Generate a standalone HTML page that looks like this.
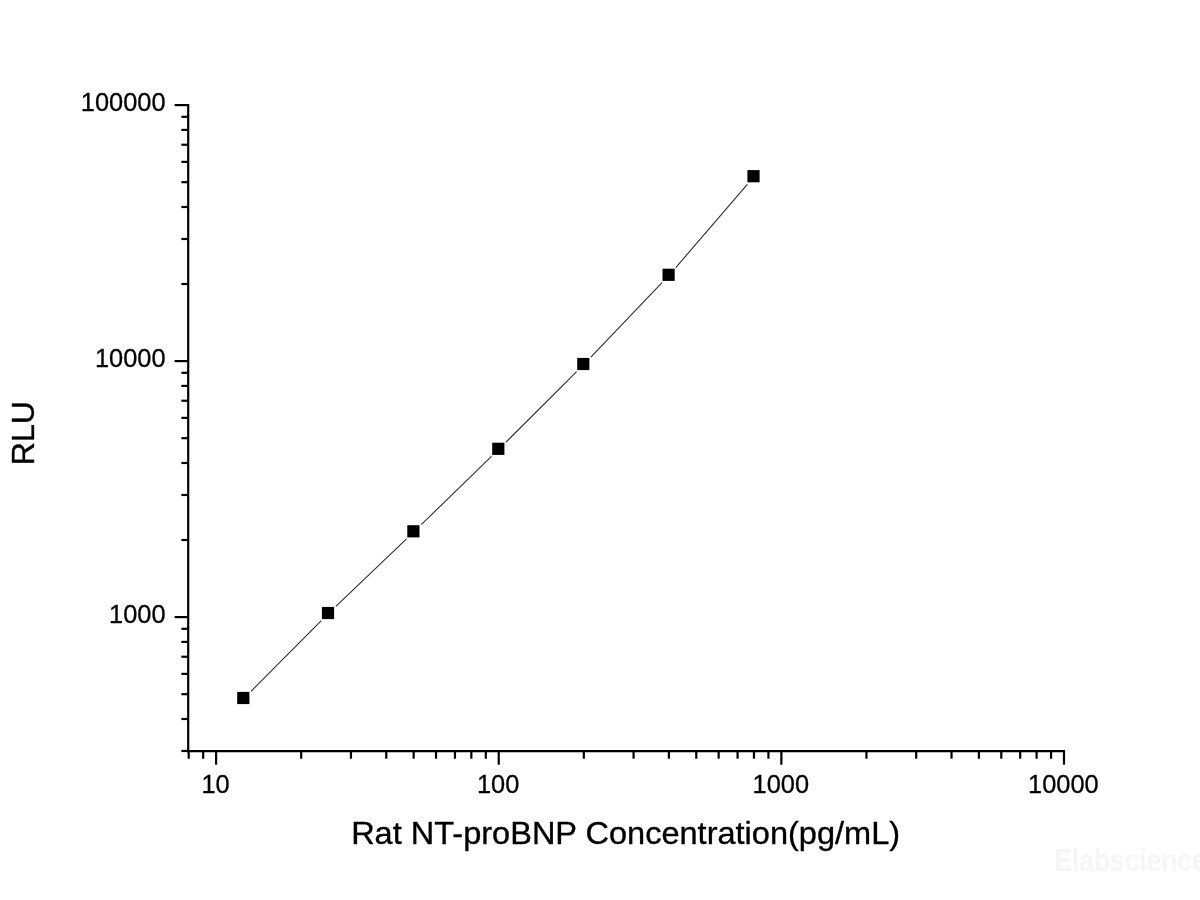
<!DOCTYPE html>
<html lang="en"><head><meta charset="utf-8"><title>Rat NT-proBNP Standard Curve</title>
<style>html,body{margin:0;padding:0;background:#fff;}body{width:1200px;height:900px;overflow:hidden;}svg{display:block;}text{font-family:"Liberation Sans",Arial,sans-serif;fill:#000;}</style></head><body>
<svg width="1200" height="900" viewBox="0 0 1200 900">
<rect x="0" y="0" width="1200" height="900" fill="#ffffff"/>
<g stroke="#000" stroke-width="2.2" fill="none" stroke-linecap="butt">
<line x1="188.2" y1="104.00" x2="188.2" y2="752.20"/>
<line x1="187.10" y1="751.1" x2="1065.09" y2="751.1"/>
<line x1="188.71" y1="751.1" x2="188.71" y2="758.70"/>
<line x1="203.17" y1="751.1" x2="203.17" y2="758.70"/>
<line x1="216.10" y1="751.1" x2="216.10" y2="764.70"/>
<line x1="301.18" y1="751.1" x2="301.18" y2="758.70"/>
<line x1="350.95" y1="751.1" x2="350.95" y2="758.70"/>
<line x1="386.26" y1="751.1" x2="386.26" y2="758.70"/>
<line x1="413.65" y1="751.1" x2="413.65" y2="758.70"/>
<line x1="436.03" y1="751.1" x2="436.03" y2="758.70"/>
<line x1="454.95" y1="751.1" x2="454.95" y2="758.70"/>
<line x1="471.34" y1="751.1" x2="471.34" y2="758.70"/>
<line x1="485.80" y1="751.1" x2="485.80" y2="758.70"/>
<line x1="498.73" y1="751.1" x2="498.73" y2="764.70"/>
<line x1="583.81" y1="751.1" x2="583.81" y2="758.70"/>
<line x1="633.58" y1="751.1" x2="633.58" y2="758.70"/>
<line x1="668.89" y1="751.1" x2="668.89" y2="758.70"/>
<line x1="696.28" y1="751.1" x2="696.28" y2="758.70"/>
<line x1="718.66" y1="751.1" x2="718.66" y2="758.70"/>
<line x1="737.58" y1="751.1" x2="737.58" y2="758.70"/>
<line x1="753.97" y1="751.1" x2="753.97" y2="758.70"/>
<line x1="768.43" y1="751.1" x2="768.43" y2="758.70"/>
<line x1="781.36" y1="751.1" x2="781.36" y2="764.70"/>
<line x1="866.44" y1="751.1" x2="866.44" y2="758.70"/>
<line x1="916.21" y1="751.1" x2="916.21" y2="758.70"/>
<line x1="951.52" y1="751.1" x2="951.52" y2="758.70"/>
<line x1="978.91" y1="751.1" x2="978.91" y2="758.70"/>
<line x1="1001.29" y1="751.1" x2="1001.29" y2="758.70"/>
<line x1="1020.21" y1="751.1" x2="1020.21" y2="758.70"/>
<line x1="1036.60" y1="751.1" x2="1036.60" y2="758.70"/>
<line x1="1051.06" y1="751.1" x2="1051.06" y2="758.70"/>
<line x1="1063.99" y1="751.1" x2="1063.99" y2="764.70"/>
<line x1="188.2" y1="750.96" x2="181.40" y2="750.96"/>
<line x1="188.2" y1="718.97" x2="181.40" y2="718.97"/>
<line x1="188.2" y1="694.16" x2="181.40" y2="694.16"/>
<line x1="188.2" y1="673.89" x2="181.40" y2="673.89"/>
<line x1="188.2" y1="656.75" x2="181.40" y2="656.75"/>
<line x1="188.2" y1="641.91" x2="181.40" y2="641.91"/>
<line x1="188.2" y1="628.81" x2="181.40" y2="628.81"/>
<line x1="188.2" y1="617.10" x2="174.60" y2="617.10"/>
<line x1="188.2" y1="540.04" x2="181.40" y2="540.04"/>
<line x1="188.2" y1="494.96" x2="181.40" y2="494.96"/>
<line x1="188.2" y1="462.97" x2="181.40" y2="462.97"/>
<line x1="188.2" y1="438.16" x2="181.40" y2="438.16"/>
<line x1="188.2" y1="417.89" x2="181.40" y2="417.89"/>
<line x1="188.2" y1="400.75" x2="181.40" y2="400.75"/>
<line x1="188.2" y1="385.91" x2="181.40" y2="385.91"/>
<line x1="188.2" y1="372.81" x2="181.40" y2="372.81"/>
<line x1="188.2" y1="361.10" x2="174.60" y2="361.10"/>
<line x1="188.2" y1="284.04" x2="181.40" y2="284.04"/>
<line x1="188.2" y1="238.96" x2="181.40" y2="238.96"/>
<line x1="188.2" y1="206.97" x2="181.40" y2="206.97"/>
<line x1="188.2" y1="182.16" x2="181.40" y2="182.16"/>
<line x1="188.2" y1="161.89" x2="181.40" y2="161.89"/>
<line x1="188.2" y1="144.75" x2="181.40" y2="144.75"/>
<line x1="188.2" y1="129.91" x2="181.40" y2="129.91"/>
<line x1="188.2" y1="116.81" x2="181.40" y2="116.81"/>
<line x1="188.2" y1="105.10" x2="174.60" y2="105.10"/>
</g>
<g font-size="25.4" stroke="#000" stroke-width="0.3">
<text x="215.50" y="793.4" text-anchor="middle">10</text>
<text x="498.13" y="793.4" text-anchor="middle">100</text>
<text x="780.76" y="793.4" text-anchor="middle">1000</text>
<text x="1063.39" y="793.4" text-anchor="middle">10000</text>
<text x="165.6" y="623.10" text-anchor="end">1000</text>
<text x="165.6" y="367.10" text-anchor="end">10000</text>
<text x="165.6" y="111.10" text-anchor="end">100000</text>
</g>
<text transform="translate(625.6,844.4) scale(1.0233,1)" font-size="31.8" text-anchor="middle" stroke="#000" stroke-width="0.35">Rat NT-proBNP Concentration(pg/mL)</text>
<text transform="translate(34.2,433.1) rotate(-90)" font-size="32.1" text-anchor="middle" stroke="#000" stroke-width="0.35">RLU</text>
<g stroke="#2e2e2e" stroke-width="1.1" fill="none" transform="translate(0.5,0.5)">
<line x1="250.50" y1="690.77" x2="320.80" y2="620.23"/>
<line x1="335.37" y1="605.95" x2="406.03" y2="538.35"/>
<line x1="420.72" y1="524.19" x2="490.98" y2="455.91"/>
<line x1="505.52" y1="441.60" x2="576.08" y2="371.20"/>
<line x1="590.35" y1="356.63" x2="661.55" y2="282.17"/>
<line x1="675.26" y1="267.07" x2="746.84" y2="183.93"/>
</g>
<g fill="#000">
<rect x="237.20" y="691.90" width="12.2" height="12.2"/>
<rect x="321.90" y="606.90" width="12.2" height="12.2"/>
<rect x="407.30" y="525.20" width="12.2" height="12.2"/>
<rect x="492.20" y="442.70" width="12.2" height="12.2"/>
<rect x="577.20" y="357.90" width="12.2" height="12.2"/>
<rect x="662.50" y="268.70" width="12.2" height="12.2"/>
<rect x="747.40" y="170.10" width="12.2" height="12.2"/>
</g>
<text transform="translate(1054.5,870.8) scale(0.86,1)" font-size="30.6" font-weight="bold" style="fill:#f6f6f6">Elabscience</text>
</svg></body></html>
